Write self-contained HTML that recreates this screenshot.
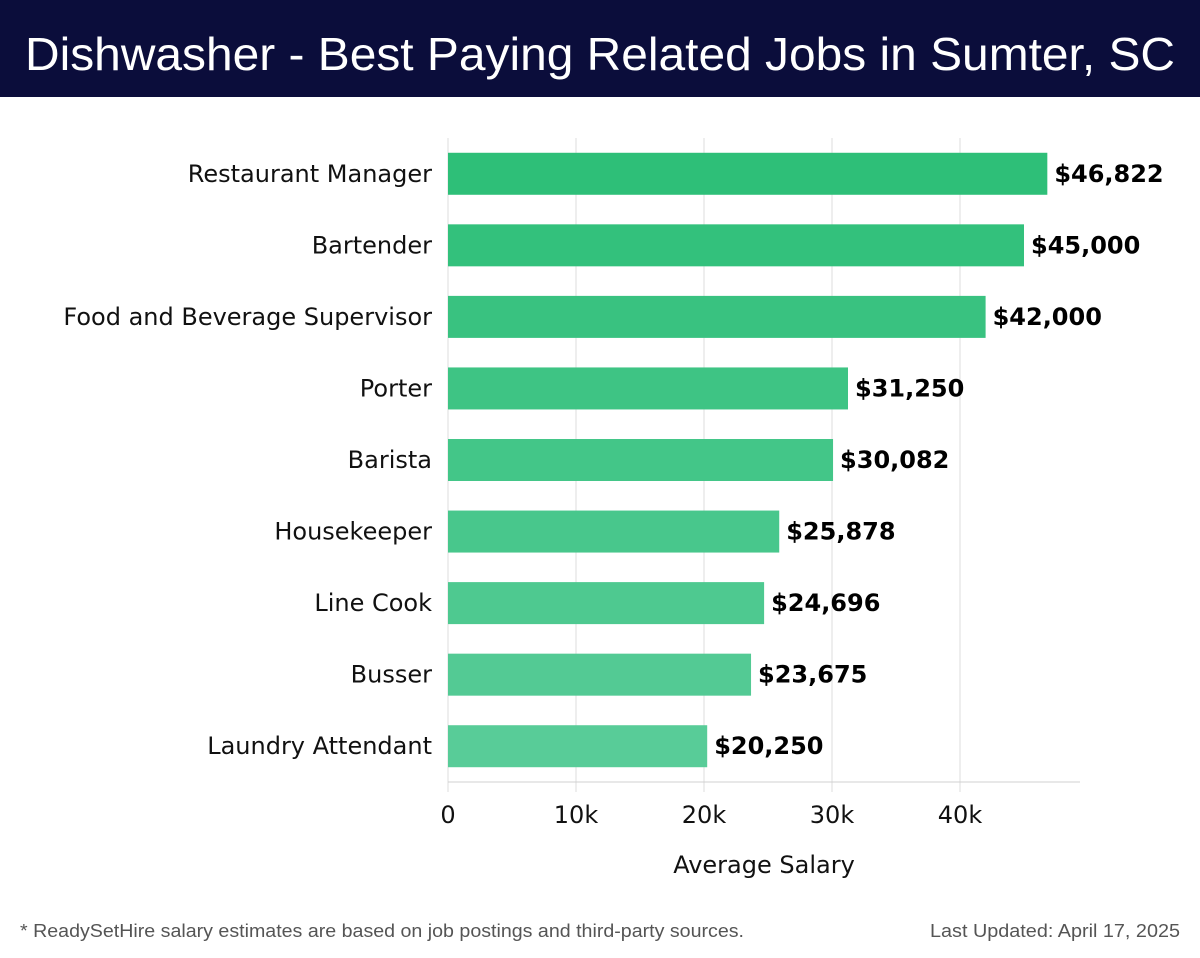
<!DOCTYPE html>
<html><head><meta charset="utf-8"><style>
html,body{margin:0;padding:0;background:#fff;width:1200px;height:958px;overflow:hidden}
svg{display:block;font-family:"DejaVu Sans","Liberation Sans",sans-serif}
</style></head><body>
<svg id="chart" width="1200" height="958" viewBox="0 0 1200 958">
<rect x="0" y="0" width="1200" height="97" fill="#0b0d3b"/>
<text x="600" y="70" text-anchor="middle" font-size="46" fill="#fff" font-family="Liberation Sans, sans-serif" textLength="1150" lengthAdjust="spacingAndGlyphs">Dishwasher - Best Paying Related Jobs in Sumter, SC</text>
<g id="grid"></g><g id="bars"></g><g id="axis"></g>
<text x="764" y="873" text-anchor="middle" font-size="24" fill="#111">Average Salary</text>
<text x="20" y="937" font-size="18" fill="#555" font-family="Liberation Sans, sans-serif" textLength="724" lengthAdjust="spacingAndGlyphs">* ReadySetHire salary estimates are based on job postings and third-party sources.</text>
<text x="930" y="937" font-size="18" fill="#555" font-family="Liberation Sans, sans-serif" textLength="250" lengthAdjust="spacingAndGlyphs">Last Updated: April 17, 2025</text>
</svg>
<script>
const categories=["Restaurant Manager","Bartender","Food and Beverage Supervisor","Porter","Barista","Housekeeper","Line Cook","Busser","Laundry Attendant"];
const salaries=[46822,45000,42000,31250,30082,25878,24696,23675,20250];
const valueLabels=["$46,822","$45,000","$42,000","$31,250","$30,082","$25,878","$24,696","$23,675","$20,250"];
const ticks=[0,10000,20000,30000,40000];
const tickLabels=["0","10k","20k","30k","40k"];
const NS="http://www.w3.org/2000/svg";
const X0=448,PXPER=0.0128,PTOP=138,PBOTTOM=782,XEND=1080;
const xs=v=>X0+v*PXPER;
const BAND=(PBOTTOM-PTOP)/categories.length;
const ys=i=>PTOP+BAND*(i+0.5);
function mk(tag,attrs,parent,txt){const e=document.createElementNS(NS,tag);for(const k in attrs)e.setAttribute(k,attrs[k]);if(txt!==undefined)e.textContent=txt;parent.appendChild(e);return e;}
const grid=document.getElementById('grid'),bars=document.getElementById('bars'),axis=document.getElementById('axis');
ticks.forEach((t,i)=>{
  const g=mk('line',{x1:xs(t),x2:xs(t),y1:PTOP,y2:PBOTTOM+10,stroke:'#dedede','stroke-width':1},grid);
  
  
  const l=mk('text',{x:xs(t),y:823,'text-anchor':'middle','font-size':24,fill:'#111'},axis,tickLabels[i]);
  
  
});
const al=mk('line',{x1:X0,x2:XEND,y1:PBOTTOM,y2:PBOTTOM,stroke:'#d0d0d0','stroke-width':1},axis);


function col(i){const f=i/(categories.length-1);const a=[46,191,120],b=[88,204,152];return `rgb(${a.map((c,k)=>Math.round(c+(b[k]-c)*f)).join(',')})`;}
categories.forEach((c,i)=>{
  const cy=ys(i);
  const r=mk('rect',{x:X0,y:cy-21,width:xs(salaries[i])-X0,height:42,fill:col(i)},bars);
  
  
  const t=mk('text',{x:432,y:cy+8,'text-anchor':'end','font-size':24,fill:'#111'},bars,c);
  
  
  const v=mk('text',{x:xs(salaries[i])+7,y:cy+8,'font-size':24,'font-weight':'bold',fill:'#000'},bars,valueLabels[i]);
  
  
});
</script>
</body></html>
